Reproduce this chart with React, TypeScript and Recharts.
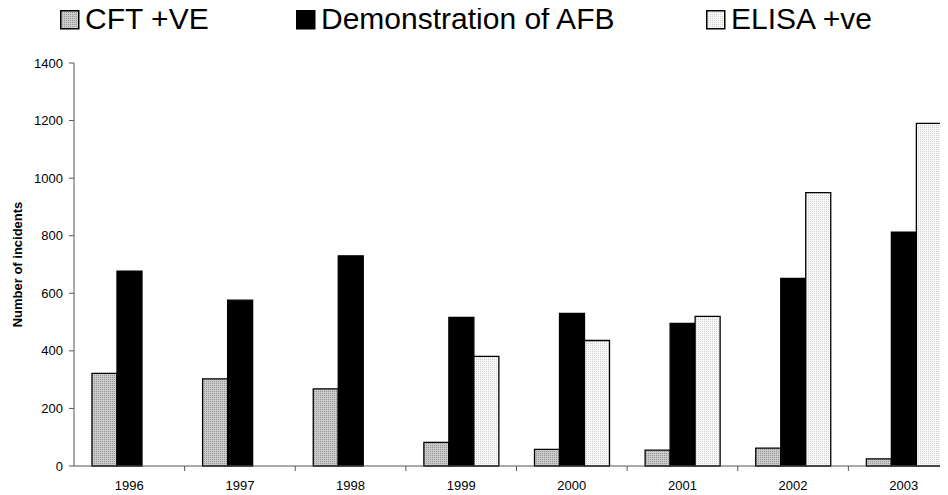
import { BarChart, Bar, XAxis, YAxis, Legend } from "recharts";

const years = ["1996", "1997", "1998", "1999", "2000", "2001", "2002", "2003"];
const cftPositive = [322, 303, 268, 82, 58, 55, 62, 25];
const afbDemonstration = [677, 576, 730, 516, 530, 495, 652, 812];
const elisaPositive = [0, 0, 0, 381, 436, 520, 950, 1190];
const yTicks = [0, 200, 400, 600, 800, 1000, 1200, 1400];

const data = years.map((year, i) => ({
  year,
  cft: cftPositive[i],
  afb: afbDemonstration[i],
  elisa: elisaPositive[i],
}));

const FONT = "'Liberation Sans', Arial, Helvetica, sans-serif";
const CHART_W = 956;
const CHART_H = 494;
const MARGIN = { top: 0, right: 5, bottom: 4, left: 0 };
const Y_AXIS_W = 66;
const CAT_W = (CHART_W - MARGIN.left - MARGIN.right - Y_AXIS_W) / years.length;

const series = [
  { key: "cft", name: "CFT +VE", fill: "url(#patCft)", left: 52 },
  { key: "afb", name: "Demonstration of AFB", fill: "#000000", left: 288 },
  { key: "elisa", name: "ELISA +ve", fill: "url(#patElisa)", left: 698 },
];

function LegendContent() {
  return (
    <div style={{ position: "relative", height: 62, fontFamily: FONT }}>
      {series.map((s) => (
        <div key={s.key} style={{ position: "absolute", left: s.left - MARGIN.left, top: 0, height: 40 }}>
          <svg width={20} height={20} style={{ position: "absolute", left: 0, top: 9 }}>
            <rect x={0.75} y={0.75} width={18} height={18} fill={s.fill} stroke="#000" strokeWidth={1.5} />
          </svg>
          <span
            style={{
              position: "absolute",
              left: 25,
              top: 0,
              fontSize: 30,
              lineHeight: "35px",
              whiteSpace: "nowrap",
              color: "#000",
            }}
          >
            {s.name}
          </span>
        </div>
      ))}
    </div>
  );
}

function YearTick(props: any) {
  const { x, y, payload } = props;
  return (
    <g>
      <text x={x} y={y + 24} textAnchor="middle" fontSize={13} fontFamily={FONT} fill="#000">
        {payload.value}
      </text>
      <line x1={x + CAT_W / 2} y1={y} x2={x + CAT_W / 2} y2={y + 5} stroke="#555" strokeWidth={1} />
    </g>
  );
}

export default function App() {
  return (
    <div style={{ width: 940, height: CHART_H, overflow: "hidden", marginTop: -7 }}>
      <BarChart
        width={CHART_W}
        height={CHART_H}
        data={data}
        margin={MARGIN}
        barGap={0}
        barSize={25}
      >
        <defs>
          <pattern id="patCft" width={2} height={2} patternUnits="userSpaceOnUse">
            <rect width={2} height={2} fill="#cbcbcb" />
            <rect width={1} height={1} fill="#959595" />
          </pattern>
          <pattern id="patElisa" width={2} height={2} patternUnits="userSpaceOnUse">
            <rect width={2} height={2} fill="#f8f8f8" />
            <rect width={1} height={1} fill="#d2d2d2" />
          </pattern>
        </defs>
        <Legend verticalAlign="top" align="left" content={<LegendContent />} />
        <XAxis
          dataKey="year"
          height={25}
          axisLine={{ stroke: "#555", strokeWidth: 1 }}
          tickLine={false}
          tickSize={0}
          tickMargin={0}
          tick={<YearTick />}
          interval={0}
        />
        <YAxis
          width={Y_AXIS_W}
          domain={[0, 1400]}
          ticks={yTicks}
          interval={0}
          axisLine={{ stroke: "#555", strokeWidth: 1 }}
          tickLine={{ stroke: "#555" }}
          tickSize={5}
          tickMargin={6}
          tick={{ fontSize: 13, fontFamily: FONT, fill: "#000" }}
          label={{
            value: "Number of incidents",
            angle: -90,
            position: "insideLeft",
            offset: 9,
            style: { textAnchor: "middle", fontSize: 13, fontWeight: "bold", fontFamily: FONT, fill: "#000" },
          }}
        />
        {series.map((s) => (
          <Bar
            key={s.key}
            dataKey={s.key}
            name={s.name}
            fill={s.fill}
            stroke="#000"
            strokeWidth={1.3}
            isAnimationActive={false}
          />
        ))}
      </BarChart>
    </div>
  );
}
